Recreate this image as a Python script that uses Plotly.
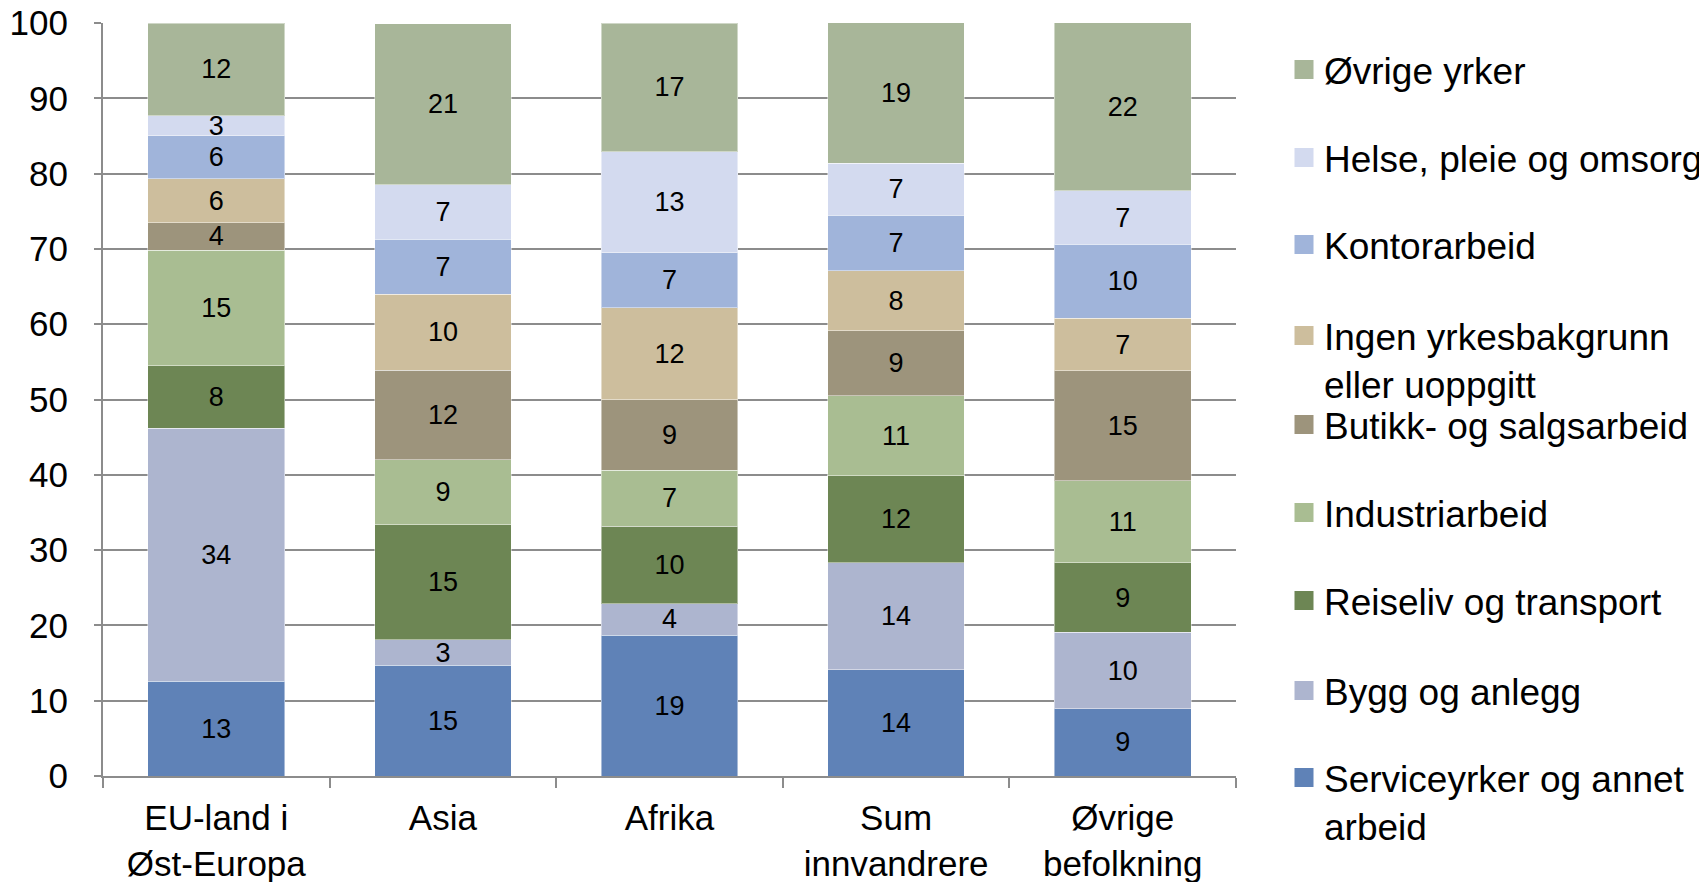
import plotly.graph_objects as go

categories = ["EU-land i<br>Øst-Europa", "Asia", "Afrika", "Sum<br>innvandrere", "Øvrige<br>befolkning"]

series_names = [
    "Serviceyrker og annet<br>arbeid",
    "Bygg og anlegg",
    "Reiseliv og transport",
    "Industriarbeid",
    "Butikk- og salgsarbeid",
    "Ingen yrkesbakgrunn<br>eller uoppgitt",
    "Kontorarbeid",
    "Helse, pleie og omsorg",
    "Øvrige yrker",
]

service = [12.6, 14.7, 18.7, 14.1, 8.9]
bygg = [33.6, 3.4, 4.2, 14.2, 10.2]
reiseliv = [8.3, 15.3, 10.3, 11.6, 9.2]
industri = [15.3, 8.6, 7.4, 10.6, 10.9]
butikk = [3.7, 11.9, 9.4, 8.6, 14.6]
ingen = [5.8, 10.1, 12.2, 8.0, 7.0]
kontor = [5.7, 7.3, 7.3, 7.4, 9.8]
helse = [2.7, 7.2, 13.4, 6.9, 7.1]
ovrige = [12.3, 21.4, 17.1, 18.7, 22.4]

series_values = [service, bygg, reiseliv, industri, butikk, ingen, kontor, helse, ovrige]

colors = ["#5f82b7", "#adb5cf", "#6d8654", "#a9bd92", "#9d947c",
          "#cdbe9d", "#a0b4da", "#d3daef", "#a8b699"]

y_ticks = [0, 10, 20, 30, 40, 50, 60, 70, 80, 90, 100]

FONT = "Liberation Sans, Arial, sans-serif"
# the page body has an 8px margin, so the figure is sized to fit inside it
W, H = 1699, 874

# legend text-block centres (px from figure top), one legend per series
legend_centres = [794, 683, 593, 505, 417, 352, 237, 150, 62]

fig = go.Figure()
for i, (name, vals, col) in enumerate(zip(series_names, series_values, colors)):
    fig.add_trace(go.Bar(
        x=categories, y=vals, name=name,
        marker=dict(color=col, line=dict(color="rgba(255,255,255,0.45)", width=1)),
        width=0.603,
        texttemplate="%{y:.0f}",
        textposition="inside",
        insidetextanchor="middle",
        textangle=0,
        constraintext="none",
        textfont=dict(family=FONT, size=27, color="black"),
        hoverinfo="skip",
        showlegend=False,
    ))

# legend entries (square swatches, one legend box per series)
for i, (name, col) in enumerate(zip(series_names, colors)):
    fig.add_trace(go.Scatter(
        x=[None], y=[None], mode="markers", name=name,
        marker=dict(symbol="square", size=16, color=col, line=dict(color=col, width=3)),
        hoverinfo="skip",
        legend="legend" if i == 0 else f"legend{i+1}",
    ))

layout_legends = {}
for i, yc in enumerate(legend_centres):
    key = "legend" if i == 0 else f"legend{i+1}"
    layout_legends[key] = dict(
        x=1276 / W, y=1 - yc / H, xref="container", yref="container",
        xanchor="left", yanchor="middle", valign="top",
        itemsizing="trace",
        font=dict(family=FONT, size=37, color="black"),
        bgcolor="rgba(0,0,0,0)", borderwidth=0,
    )

fig.update_layout(
    barmode="stack",
    width=W, height=H,
    margin=dict(l=95, r=W - 1228, t=15, b=H - 768, autoexpand=False),
    plot_bgcolor="white", paper_bgcolor="white",
    font=dict(family=FONT, size=35, color="black"),
    showlegend=True,
    **layout_legends,
)

fig.update_xaxes(
    type="category", automargin=False,
    showline=True, linecolor="#8c8c8c", linewidth=2,
    ticks="outside", tickson="boundaries", ticklen=10, tickcolor="#8c8c8c", tickwidth=2,
    ticklabelstandoff=10, ticklabeloverflow="allow",
    showgrid=False,
    tickfont=dict(family=FONT, size=35, color="black"),
)
fig.update_yaxes(
    range=[0, 100], tickvals=y_ticks, automargin=False,
    showline=True, linecolor="#8c8c8c", linewidth=2,
    ticks="outside", ticklen=7, tickcolor="#8c8c8c", tickwidth=2,
    showgrid=True, gridcolor="#8c8c8c", gridwidth=2,
    zeroline=False,
    ticklabelstandoff=19, ticklabeloverflow="allow",
    tickfont=dict(family=FONT, size=35, color="black"),
)

fig.write_html("out.html")
